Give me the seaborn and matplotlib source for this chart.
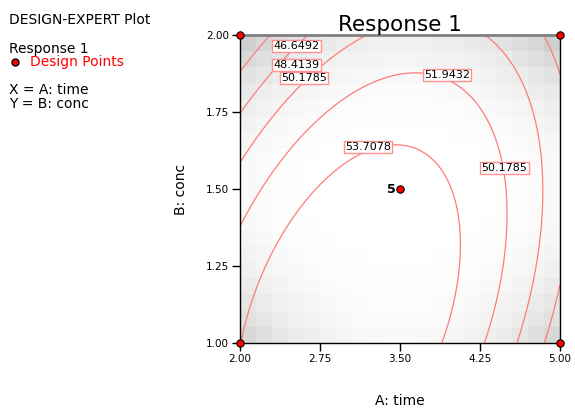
import numpy as np
import matplotlib
matplotlib.use("Agg")
import matplotlib.pyplot as plt
import seaborn as sns

# quadratic model in coded units (A: time 2..5, B: conc 1..2)
coef_names = ["Intercept", "A", "B", "AB", "A^2", "B^2"]
coefs = [54.444, -0.891, -2.091, 2.299, -4.355, -1.695]
levels = [46.6492, 48.4139, 50.1785, 51.9432, 53.7078]

# contour labels as placed on the original plot
label_text = ["46.6492", "48.4139", "50.1785", "51.9432", "53.7078", "50.1785"]
label_x = [2.53, 2.53, 2.60, 3.94, 3.20, 4.48]
label_y = [1.964, 1.903, 1.861, 1.870, 1.636, 1.568]

# design points
design_time = [2.0, 2.0, 5.0, 5.0, 3.5]
design_conc = [1.0, 2.0, 1.0, 2.0, 1.5]
design_reps = [1, 1, 1, 1, 5]

x_ticks = [2.00, 2.75, 3.50, 4.25, 5.00]
y_ticks = [1.00, 1.25, 1.50, 1.75, 2.00]

sns.set_style("ticks")
plt.rcParams["font.family"] = ["DejaVu Sans"]
plt.rcParams["text.color"] = "black"
plt.rcParams["axes.labelcolor"] = "black"
plt.rcParams["xtick.color"] = "black"
plt.rcParams["ytick.color"] = "black"


def predict(t, c):
    a = (t - 3.5) / 1.5
    b = (c - 1.5) / 0.5
    b0, ba, bb, bab, baa, bbb = coefs
    return b0 + ba * a + bb * b + bab * a * b + baa * a * a + bbb * b * b


fig = plt.figure(figsize=(5.75, 4.08), dpi=100)
ax = fig.add_axes([0.4174, 0.1593, 0.5565, 0.7549])

# blocky grey background shading (darker towards the corners)
xe = np.linspace(2, 5, 21)
ye = np.linspace(1, 2, 20)
xc = (xe[:-1] + xe[1:]) / 2
yc = (ye[:-1] + ye[1:]) / 2
XC, YC = np.meshgrid(xc, yc)
ac = (XC - 3.5) / 1.5
bc = (YC - 1.5) / 0.5
shade = 0.13 * ac ** 2 * bc ** 2 + 0.03 * (ac ** 4 + bc ** 4) + 0.02 * (bc + 1) * bc ** 2
ax.pcolormesh(xe, ye, shade, cmap="gray_r", vmin=0, vmax=1, shading="flat", zorder=0)

# contour lines
xs = np.linspace(2, 5, 300)
ys = np.linspace(1, 2, 300)
X, Y = np.meshgrid(xs, ys)
Z = predict(X, Y)
ax.contour(X, Y, Z, levels=levels, colors="#ff7b7b", linewidths=0.9, zorder=2)

for t, lx, ly in zip(label_text, label_x, label_y):
    ax.text(lx, ly, t, fontsize=8, ha="center", va="center", zorder=4,
            bbox=dict(boxstyle="square,pad=0.1", fc="white", ec="#ff8f8f", lw=1))

# design points
sns.scatterplot(x=design_time, y=design_conc, color="red", edgecolor="black",
                linewidth=0.8, s=28, ax=ax, zorder=6, clip_on=False, legend=False)
for t, c, n in zip(design_time, design_conc, design_reps):
    if n > 1:
        ax.annotate(str(n), (t, c), xytext=(-3, 0), textcoords="offset points",
                    ha="right", va="center", fontsize=9, fontweight="bold", zorder=6)

ax.set_xlim(2, 5)
ax.set_ylim(1, 2)
ax.set_xticks(x_ticks)
ax.set_yticks(y_ticks)
ax.set_xticklabels([f"{v:.2f}" for v in x_ticks])
ax.set_yticklabels([f"{v:.2f}" for v in y_ticks])
ax.tick_params(direction="out", length=6, width=1, labelsize=7.5, pad=2, color="black")
for side in ["left", "bottom", "right"]:
    ax.spines[side].set_color("black")
    ax.spines[side].set_linewidth(1)
ax.spines["top"].set_color("#808080")
ax.spines["top"].set_linewidth(2)

ax.set_title("Response 1", fontsize=15.5, pad=3)
ax.set_xlabel("A: time", fontsize=10)
ax.set_ylabel("B: conc", fontsize=10)
ax.xaxis.set_label_coords(0.5, -0.188)
ax.yaxis.set_label_coords(-0.184, 0.5)
ax.xaxis.label.set_va("center")
ax.yaxis.label.set_va("center")

# side legend block
W, H = 575, 408
fig.text(9 / W, 1 - 20 / H, "DESIGN-EXPERT Plot", fontsize=10, va="center")
fig.text(9 / W, 1 - 49 / H, "Response 1", fontsize=10, va="center")
fig.text(30 / W, 1 - 62 / H, "Design Points", fontsize=10, va="center", color="red")
fig.lines.append(plt.Line2D([15 / W], [1 - 62 / H], marker="o", markersize=5,
                            markerfacecolor="red", markeredgecolor="black",
                            transform=fig.transFigure, linestyle="none"))
fig.text(9 / W, 1 - 90 / H, "X = A: time", fontsize=10, va="center")
fig.text(9 / W, 1 - 104 / H, "Y = B: conc", fontsize=10, va="center")

fig.savefig("out.png", dpi=100)
